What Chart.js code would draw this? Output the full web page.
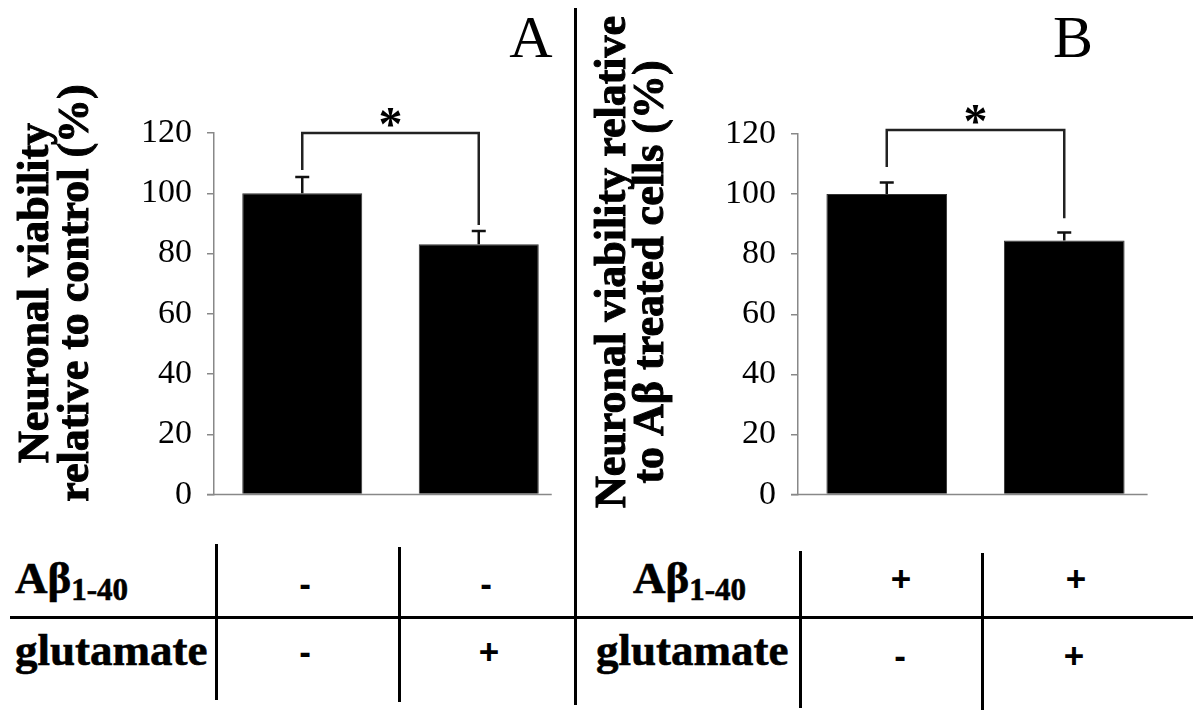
<!DOCTYPE html>
<html>
<head>
<meta charset="utf-8">
<script src="https://cdn.jsdelivr.net/npm/chart.js@4.4.0/dist/chart.umd.min.js"></script>
<style>
  body { margin: 0; background: #fff; }
  #wrap { position: relative; width: 1200px; height: 720px; overflow: hidden; font-family: 'Liberation Serif', 'Times New Roman', serif; }
  #wrap canvas { position: absolute; top: 0; }
  .ln { position: absolute; background: #000; }
  .lab { position: absolute; white-space: nowrap; font-weight: bold; font-size: 45px; line-height: 1; color: #000; -webkit-text-stroke: 0.6px #000; }
  .lab sub { font-size: 31px; vertical-align: -7px; }
  .sign { position: absolute; transform: translate(-50%, -50%); font-family: 'Liberation Sans', Arial, sans-serif; font-weight: bold; font-size: 35px; line-height: 1; }
</style>
</head>
<body>
<div id="wrap">
  <canvas id="chartA" width="575" height="530" style="left:0"></canvas>
  <canvas id="chartB" width="625" height="530" style="left:575px"></canvas>

  <div class="ln" style="left:574px;top:8px;width:3px;height:697px"></div>
  <div class="ln" style="left:10px;top:616px;width:1183px;height:3px"></div>
  <div class="ln" style="left:215px;top:544px;width:3px;height:156px"></div>
  <div class="ln" style="left:398px;top:547px;width:3px;height:155px"></div>
  <div class="ln" style="left:799px;top:551px;width:3px;height:157px"></div>
  <div class="ln" style="left:981px;top:553px;width:3px;height:157px"></div>

  <div class="lab" style="left:15px;top:556px">Aβ<sub>1-40</sub></div>
  <div class="lab" style="left:15px;top:628px">glutamate</div>
  <div class="lab" style="left:633px;top:556px">Aβ<sub>1-40</sub></div>
  <div class="lab" style="left:596px;top:628px">glutamate</div>
  <div id="signs"></div>
</div>
<script>
const categories = ['control', 'glutamate']
const yTicks = [0, 20, 40, 60, 80, 100, 120]

// panel A: viability relative to control (%)
const viabilityA = [100, 83.1]
const errorA = [5.4, 4.4]
const bracketA = [120, 107.7, 89.5]   // bracket level, left leg end, right leg end
// panel B: viability relative to Abeta treated cells (%)
const viabilityB = [100, 84.6]
const errorB = [3.9, 2.6]
const bracketB = [121.3, 109, 92]

// treatment table
const abetaA = ['-', '-']
const glutamateA = ['-', '+']
const abetaB = ['+', '+']
const glutamateB = ['-', '+']

const extras = {
    id: 'extras',
    afterDatasetsDraw(chart, args, o) {
        const ctx = chart.ctx
        const y = chart.scales.y
        const meta = chart.getDatasetMeta(0)
        const vals = chart.data.datasets[0].data
        ctx.save()
        // baseline
        const y0 = y.getPixelForValue(0)
        const last = meta.data[meta.data.length - 1]
        ctx.strokeStyle = '#888'
        ctx.lineWidth = 1.5
        ctx.beginPath()
        ctx.moveTo(chart.chartArea.left - 7, y0)
        ctx.lineTo(last.x + last.width / 2 + o.baseTail, y0)
        ctx.stroke()
        // error bars
        ctx.strokeStyle = '#111'
        ctx.lineWidth = 2.5
        meta.data.forEach((bar, i) => {
            const top = y.getPixelForValue(vals[i] + o.errors[i])
            ctx.beginPath()
            ctx.moveTo(bar.x, bar.y)
            ctx.lineTo(bar.x, top)
            ctx.moveTo(bar.x - 7, top)
            ctx.lineTo(bar.x + 7, top)
            ctx.stroke()
        })
        // significance bracket
        const [lvl, l, r] = o.bracket
        const xl = meta.data[0].x, xr = meta.data[1].x
        const yb = y.getPixelForValue(lvl)
        ctx.strokeStyle = '#222'
        ctx.beginPath()
        ctx.moveTo(xl, y.getPixelForValue(l))
        ctx.lineTo(xl, yb)
        ctx.lineTo(xr, yb)
        ctx.lineTo(xr, y.getPixelForValue(r))
        ctx.stroke()
        ctx.fillStyle = '#000'
        ctx.textAlign = 'center'
        ctx.textBaseline = 'alphabetic'
        ctx.font = 'bold 48px "Liberation Serif"'
        ctx.fillText('*', (xl + xr) / 2, yb + 7)
        // panel letter
        ctx.font = '60px "Liberation Serif"'
        ctx.fillText(o.letter, o.letterX, 57)
        // rotated axis title
        ctx.font = 'bold 44px "Liberation Serif"'
        ctx.strokeStyle = '#000'
        ctx.lineWidth = 1
        o.title.forEach((t, i) => {
            ctx.save()
            ctx.translate(o.titleX[i], o.titleY[i])
            ctx.rotate(-Math.PI / 2)
            ctx.fillText(t, 0, 0)
            ctx.strokeText(t, 0, 0)
            ctx.restore()
        })
        ctx.restore()
    }
}

const makeChart = (id, values, axisWidth, pad, extra) => {
    const catWidth = 176.5
    return new Chart(document.getElementById(id), {
        type: 'bar',
        data: {
            labels: categories,
            datasets: [{
                data: values,
                backgroundColor: '#000',
                borderColor: '#333',
                borderWidth: 1,
                barPercentage: 120 / catWidth,
                categoryPercentage: 1
            }]
        },
        options: {
            responsive: false,
            animation: false,
            layout: { padding: pad },
            plugins: { legend: { display: false }, tooltip: { enabled: false }, extras: extra },
            scales: {
                x: { display: false },
                y: {
                    min: 0,
                    max: 120,
                    afterFit: s => { s.width = axisWidth },
                    afterBuildTicks: s => { s.ticks = yTicks.map(v => ({ value: v })) },
                    border: { display: true, color: '#888', width: 1.5 },
                    grid: { drawOnChartArea: false, drawTicks: true, tickLength: 7, color: '#888', lineWidth: 1.5 },
                    ticks: {
                        padding: 15,
                        color: '#000',
                        font: { family: 'Liberation Serif', size: 34 }
                    }
                }
            }
        },
        plugins: [extras]
    })
}

makeChart('chartA', viabilityA, 214, { left: 0, top: 133, right: 8, bottom: 35 }, {
    errors: errorA, bracket: bracketA, baseTail: 13,
    letter: 'A', letterX: 531,
    title: ['Neuronal viability', 'relative to control (%)'],
    titleX: [48, 88], titleY: [293, 293]
})
makeChart('chartB', viabilityB, 223, { left: 0, top: 134, right: 47, bottom: 33 }, {
    errors: errorB, bracket: bracketB, baseTail: 23,
    letter: 'B', letterX: 498,
    title: ['Neuronal viability relative', 'to Aβ treated cells (%)'],
    titleX: [50, 88], titleY: [262, 272]
})

// table signs
const signs = document.getElementById('signs')
const putRow = (vals, xs, yc) => {
    vals.forEach((s, i) => {
        const d = document.createElement('div')
        d.className = 'sign'
        d.style.left = xs[i] + 'px'
        d.style.top = yc + 'px'
        d.textContent = s
        signs.appendChild(d)
    })
}
putRow(abetaA, [305, 486], 583)
putRow(glutamateA, [305, 489], 651)
putRow(abetaB, [901, 1076], 578)
putRow(glutamateB, [900, 1074], 655)
</script>
</body>
</html>
